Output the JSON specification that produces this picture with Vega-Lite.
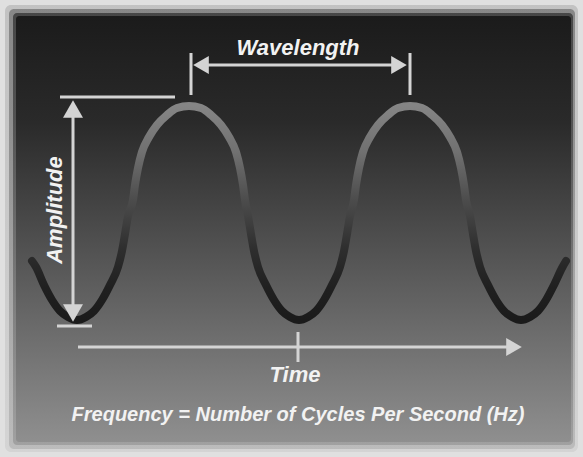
{
  "$schema": "https://vega.github.io/schema/vega-lite/v6.json",
  "width": 583,
  "height": 457,
  "autosize": {"type": "fit", "contains": "padding"},
  "padding": 0,
  "background": "#e0e0e0",
  "config": {"view": {"stroke": null}},
  "datasets": {
    "frame": [
      {"k": "f1", "x": 5, "x2": 578, "y": 5, "y2": 452},
      {"k": "f2", "x": 9, "x2": 575, "y": 9, "y2": 449},
      {"k": "f3", "x": 13, "x2": 573, "y": 13, "y2": 445},
      {"k": "f4", "x": 16, "x2": 571, "y": 16, "y2": 442}
    ],
    "wave": [
      {"x": 32, "y": 261}, {"x": 36, "y": 267}, {"x": 44, "y": 285}, {"x": 52, "y": 300},
      {"x": 60, "y": 311}, {"x": 68, "y": 317}, {"x": 77, "y": 320},
      {"x": 86, "y": 317}, {"x": 94, "y": 311}, {"x": 102, "y": 300}, {"x": 110, "y": 285},
      {"x": 118, "y": 267}, {"x": 122, "y": 251}, {"x": 125, "y": 234}, {"x": 128, "y": 216},
      {"x": 133, "y": 200}, {"x": 135, "y": 185}, {"x": 138, "y": 168}, {"x": 142, "y": 152},
      {"x": 149, "y": 137}, {"x": 157, "y": 125}, {"x": 167, "y": 115}, {"x": 177, "y": 108},
      {"x": 189, "y": 106},
      {"x": 201, "y": 108}, {"x": 211, "y": 115}, {"x": 221, "y": 125}, {"x": 229, "y": 137},
      {"x": 236, "y": 152}, {"x": 240, "y": 168}, {"x": 243, "y": 185}, {"x": 245, "y": 200},
      {"x": 248, "y": 216}, {"x": 251, "y": 234}, {"x": 254, "y": 251}, {"x": 258, "y": 267},
      {"x": 266, "y": 285}, {"x": 274, "y": 300}, {"x": 282, "y": 311}, {"x": 290, "y": 317},
      {"x": 299, "y": 320},
      {"x": 308, "y": 317}, {"x": 316, "y": 311}, {"x": 324, "y": 300}, {"x": 332, "y": 285},
      {"x": 340, "y": 267}, {"x": 344, "y": 251}, {"x": 347, "y": 234}, {"x": 350, "y": 216},
      {"x": 354, "y": 200}, {"x": 356, "y": 185}, {"x": 359, "y": 168}, {"x": 363, "y": 152},
      {"x": 370, "y": 137}, {"x": 378, "y": 125}, {"x": 388, "y": 115}, {"x": 398, "y": 108},
      {"x": 410, "y": 106},
      {"x": 422, "y": 108}, {"x": 432, "y": 115}, {"x": 442, "y": 125}, {"x": 450, "y": 137},
      {"x": 457, "y": 152}, {"x": 461, "y": 168}, {"x": 464, "y": 185}, {"x": 466, "y": 200},
      {"x": 470, "y": 216}, {"x": 473, "y": 234}, {"x": 476, "y": 251}, {"x": 480, "y": 267},
      {"x": 488, "y": 285}, {"x": 496, "y": 300}, {"x": 504, "y": 311}, {"x": 512, "y": 317},
      {"x": 521, "y": 320},
      {"x": 530, "y": 317}, {"x": 538, "y": 311}, {"x": 546, "y": 300}, {"x": 554, "y": 285},
      {"x": 562, "y": 268}, {"x": 566, "y": 261}
    ],
    "rules": [
      {"x": 191, "x2": 191, "y": 53, "y2": 95},
      {"x": 410, "x2": 410, "y": 53, "y2": 95},
      {"x": 200, "x2": 400, "y": 65, "y2": 65},
      {"x": 60, "x2": 175, "y": 97, "y2": 97},
      {"x": 57, "x2": 92, "y": 326, "y2": 326},
      {"x": 73, "x2": 73, "y": 108, "y2": 314},
      {"x": 78, "x2": 512, "y": 347, "y2": 347},
      {"x": 298, "x2": 298, "y": 332, "y2": 362}
    ],
    "heads": [
      {"dir": "left", "x": 201, "y": 65},
      {"dir": "right", "x": 399, "y": 65},
      {"dir": "right", "x": 514, "y": 347},
      {"dir": "up", "x": 73, "y": 109},
      {"dir": "down", "x": 73, "y": 313}
    ],
    "labels": [
      {"label": "Wavelength", "kind": "title", "x": 298, "y": 55},
      {"label": "Time", "kind": "title", "x": 295, "y": 382},
      {"label": "Frequency = Number of Cycles Per Second (Hz)", "kind": "caption", "x": 298, "y": 421},
      {"label": "Amplitude", "kind": "vertical", "x": 62, "y": 210}
    ]
  },
  "encoding": {
    "x": {"field": "x", "type": "quantitative", "scale": {"domain": [0, 583], "nice": false, "zero": false}, "axis": null},
    "y": {"field": "y", "type": "quantitative", "scale": {"domain": [0, 457], "reverse": true, "nice": false, "zero": false}, "axis": null}
  },
  "layer": [
    {
      "data": {"name": "frame"},
      "transform": [{"filter": "datum.k === 'f1'"}],
      "mark": {"type": "rect", "opacity": 0.15, "cornerRadius": 6,
        "fill": {"gradient": "linear", "x1": 0, "y1": 0, "x2": 0, "y2": 1,
          "stops": [{"offset": 0, "color": "#1b1b1b"}, {"offset": 0.25, "color": "#2a2a2a"}, {"offset": 0.55, "color": "#525252"}, {"offset": 1, "color": "#8f8f8f"}]}},
      "encoding": {"x2": {"field": "x2"}, "y2": {"field": "y2"}}
    },
    {
      "data": {"name": "frame"},
      "transform": [{"filter": "datum.k === 'f2'"}],
      "mark": {"type": "rect", "opacity": 0.35, "cornerRadius": 5,
        "fill": {"gradient": "linear", "x1": 0, "y1": 0, "x2": 0, "y2": 1,
          "stops": [{"offset": 0, "color": "#1b1b1b"}, {"offset": 0.25, "color": "#2a2a2a"}, {"offset": 0.55, "color": "#525252"}, {"offset": 1, "color": "#8f8f8f"}]}},
      "encoding": {"x2": {"field": "x2"}, "y2": {"field": "y2"}}
    },
    {
      "data": {"name": "frame"},
      "transform": [{"filter": "datum.k === 'f3'"}],
      "mark": {"type": "rect", "opacity": 0.6, "cornerRadius": 4,
        "fill": {"gradient": "linear", "x1": 0, "y1": 0, "x2": 0, "y2": 1,
          "stops": [{"offset": 0, "color": "#1b1b1b"}, {"offset": 0.25, "color": "#2a2a2a"}, {"offset": 0.55, "color": "#525252"}, {"offset": 1, "color": "#8f8f8f"}]}},
      "encoding": {"x2": {"field": "x2"}, "y2": {"field": "y2"}}
    },
    {
      "data": {"name": "frame"},
      "transform": [{"filter": "datum.k === 'f4'"}],
      "mark": {"type": "rect", "opacity": 1, "cornerRadius": 3,
        "fill": {"gradient": "linear", "x1": 0, "y1": 0, "x2": 0, "y2": 1,
          "stops": [{"offset": 0, "color": "#1b1b1b"}, {"offset": 0.25, "color": "#2a2a2a"}, {"offset": 0.55, "color": "#525252"}, {"offset": 1, "color": "#8f8f8f"}]}},
      "encoding": {"x2": {"field": "x2"}, "y2": {"field": "y2"}}
    },
    {
      "data": {"name": "rules"},
      "mark": {"type": "rule", "color": "#d4d4d4", "strokeWidth": 3},
      "encoding": {"x2": {"field": "x2"}, "y2": {"field": "y2"}}
    },
    {
      "data": {"name": "wave"},
      "mark": {"type": "line", "interpolate": "monotone", "strokeWidth": 8, "strokeCap": "round",
        "stroke": {"gradient": "linear", "x1": 0, "y1": 0, "x2": 0, "y2": 1,
          "stops": [{"offset": 0, "color": "#858585"}, {"offset": 0.22, "color": "#707070"}, {"offset": 0.44, "color": "#4c4c4c"}, {"offset": 0.67, "color": "#2e2e2e"}, {"offset": 0.85, "color": "#202020"}, {"offset": 1, "color": "#1b1b1b"}]}},
      "encoding": {"order": {"field": "x", "type": "quantitative"}}
    },
    {
      "data": {"name": "heads"},
      "transform": [{"filter": "datum.dir === 'left'"}],
      "mark": {"type": "point", "shape": "triangle-left", "filled": true, "size": 324, "color": "#d4d4d4", "opacity": 1}
    },
    {
      "data": {"name": "heads"},
      "transform": [{"filter": "datum.dir === 'right'"}],
      "mark": {"type": "point", "shape": "triangle-right", "filled": true, "size": 324, "color": "#d4d4d4", "opacity": 1}
    },
    {
      "data": {"name": "heads"},
      "transform": [{"filter": "datum.dir === 'up'"}],
      "mark": {"type": "point", "shape": "triangle-up", "filled": true, "size": 400, "color": "#d4d4d4", "opacity": 1}
    },
    {
      "data": {"name": "heads"},
      "transform": [{"filter": "datum.dir === 'down'"}],
      "mark": {"type": "point", "shape": "triangle-down", "filled": true, "size": 400, "color": "#d4d4d4", "opacity": 1}
    },
    {
      "data": {"name": "labels"},
      "transform": [{"filter": "datum.kind === 'title'"}],
      "mark": {"type": "text", "font": "Liberation Sans", "fontSize": 22, "fontWeight": "bold", "fontStyle": "italic", "color": "#f2f2f2", "align": "center", "baseline": "alphabetic"},
      "encoding": {"text": {"field": "label"}}
    },
    {
      "data": {"name": "labels"},
      "transform": [{"filter": "datum.kind === 'vertical'"}],
      "mark": {"type": "text", "font": "Liberation Sans", "fontSize": 22, "fontWeight": "bold", "fontStyle": "italic", "color": "#f2f2f2", "align": "center", "baseline": "alphabetic", "angle": 270},
      "encoding": {"text": {"field": "label"}}
    },
    {
      "data": {"name": "labels"},
      "transform": [{"filter": "datum.kind === 'caption'"}],
      "mark": {"type": "text", "font": "Liberation Sans", "fontSize": 20, "fontWeight": "bold", "fontStyle": "italic", "color": "#f2f2f2", "align": "center", "baseline": "alphabetic"},
      "encoding": {"text": {"field": "label"}}
    }
  ]
}
